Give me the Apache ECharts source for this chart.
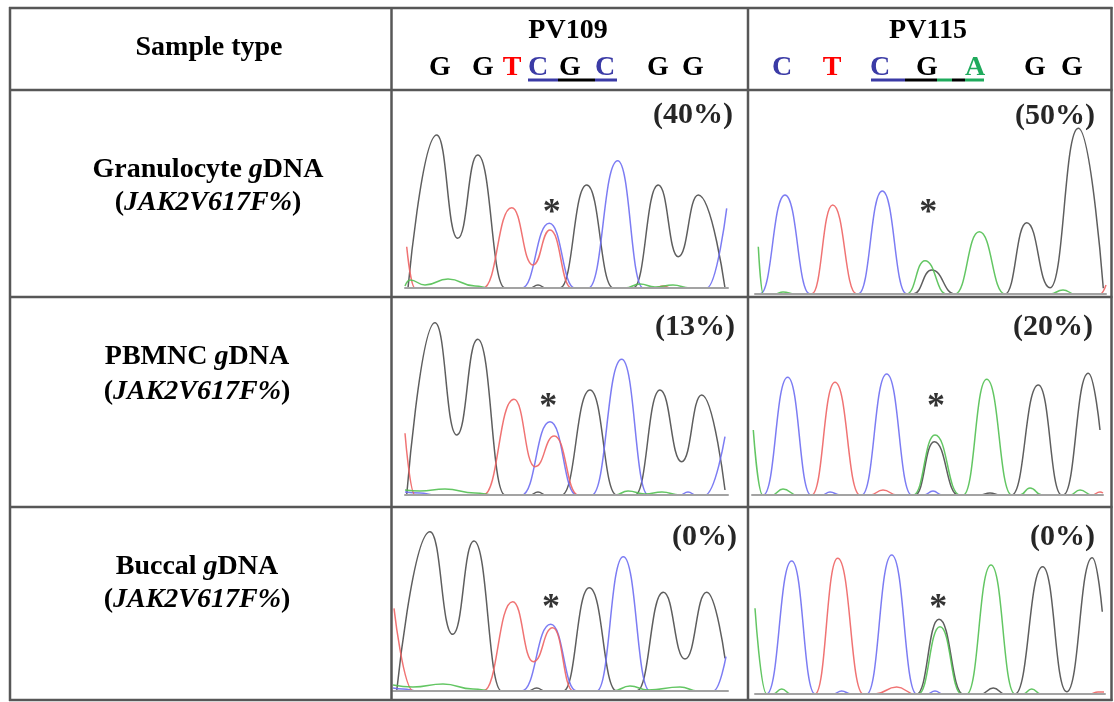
<!DOCTYPE html>
<html>
<head>
<meta charset="utf-8">
<script src="https://cdn.jsdelivr.net/npm/echarts@6/dist/echarts.min.js"></script>
<style>
  html, body { margin: 0; padding: 0; background: #ffffff; }
  #chart { width: 1114px; height: 702px; }
</style>
</head>
<body>
<div id="chart"></div>
<script>
// ---- Table content ----
const sampleTypes = ['Granulocyte', 'PBMNC', 'Buccal'];
const patients = ['PV109', 'PV115'];
// JAK2 V617F allele burden per sample type (rows) and patient (columns)
const mutantPercent = [[40, 50], [13, 20], [0, 0]];
// Base calls printed above each chromatogram column
const seqPV109 = ['G', 'G', 'T', 'C', 'G', 'C', 'G', 'G'];
const seqPV115 = ['C', 'T', 'C', 'G', 'A', 'G', 'G'];
// Bases of the underlined codon segments
const codonPV109 = ['C', 'G', 'C'];
const codonPV115 = ['C', 'G', 'A', 'G', 'A'];

// ---- Chromatogram traces: [scan position, signal] ----
// PV109, granulocyte gDNA
const pv109GranG = [[3,0],[31.7,153],[52.7,49.7],[72.7,133],[100,0],[125,0],[133,3],[141,0],[155,0],[181.7,103],[208.3,0],[228.3,0],[253.3,103],[273.3,31.3],[293.3,93],[320,0]];
const pv109GranT = [[1.7,41.3],[10,0],[78,0],[106.7,80.3],[128,23],[145,58],[166.7,0],[250,0],[258,2],[266,0],[320,0]];
const pv109GranC = [[0,0],[116.7,0],[144.3,64.7],[170,0],[183.3,0],[212.7,127.3],[238.3,0],[301.7,0],[321.7,79.7]];
const pv109GranA = [[0,2],[5,8],[20,3],[43,9],[70,2],[85,0],[220,0],[235,4],[250,1],[268,3],[285,0],[320,0]];
// PV115, granulocyte gDNA
const pv115GranG = [[0,0],[158.3,0],[176.7,24],[200,0],[250,0],[271.7,71.3],[295,6.3],[323.3,165.7],[348.3,5.7]];
const pv115GranC = [[0,0],[5,0],[30,99],[55,0],[103.3,0],[127.3,103],[151.7,0],[350,0]];
const pv115GranT = [[0,0],[56.7,0],[77.7,89],[101.7,0],[345,0],[351,9]];
const pv115GranA = [[3.3,47.3],[8.3,0],[20,0],[28,2],[40,0],[151.7,0],[170,33.3],[191.7,0],[200,0],[224.3,62.3],[250,0],[295,0],[308,4],[320,0],[350,0]];
// PV109, PBMNC gDNA
const pv109PbmncG = [[1.7,0],[30,172.3],[51.7,60],[72.7,155.7],[100,0],[125,0],[133,3],[141,0],[156.7,0],[185,105],[211.7,0],[230,0],[255,105],[276.7,33.3],[296.7,100],[320,5]];
const pv109PbmncT = [[0,61.7],[10,0],[78.3,0],[109,95.7],[130,28.3],[149.3,59],[173.3,0],[320,0]];
const pv109PbmncC = [[0,3],[15,2],[30,0],[116.7,0],[145,73.3],[171.7,0],[186.7,0],[216.7,135.7],[243.3,0],[275,0],[283,3],[291,0],[300,0],[320,58.3]];
const pv109PbmncA = [[0,5],[15,4],[40,6],[70,2],[90,0],[210,0],[223,4],[240,1],[257,3],[275,0],[320,0]];
// PV115, PBMNC gDNA
const pv115PbmncG = [[0,0],[163,0],[182.3,53.3],[206.3,0],[228,0],[238,2],[248,0],[259.7,0],[286.3,110],[309.7,0],[311.3,0],[336.3,121.7],[348,65]];
const pv115PbmncC = [[0,0],[11.3,0],[35.7,117.7],[59,0],[70,0],[78,3],[88,0],[109.7,0],[134.7,121],[159.7,0],[172,0],[181,4],[190,0],[351,0]];
const pv115PbmncT = [[0,0],[59.7,0],[83,112.7],[108,0],[118,0],[131,5],[145,0],[340,0],[348,3],[351,2]];
const pv115PbmncA = [[1.3,65],[10.7,0],[20,0],[31,6],[45,0],[161.3,0],[183,60],[208,0],[211.3,0],[234.7,115.7],[259.7,0],[268,0],[278,7],[290,0],[318,0],[328,5],[340,0],[351,0]];
// PV109, buccal gDNA
const pv109BuccalG = [[3.7,0],[37,159.3],[59.7,56.7],[81,150],[108.7,0],[135,0],[143.7,3],[152,0],[170.3,0],[196.3,103.3],[223.7,0],[243.7,0],[270.3,98.7],[292,32],[313.7,98.7],[332,32.7]];
const pv109BuccalT = [[1,82.7],[20.3,0],[90.3,0],[119.7,89.3],[140.3,29.3],[159.7,63.3],[180.3,0],[333,0]];
const pv109BuccalC = [[0,3],[10,2],[25,0],[128.7,0],[157.7,66.7],[183.7,0],[203.7,0],[230.3,134.3],[257,0],[320.3,0],[333,34.3]];
const pv109BuccalA = [[0,6],[20,4],[50,7],[80,2],[100,0],[220,0],[237,5],[255,1],[287,4],[305,0],[333,0]];
// PV115, buccal gDNA
const pv115BuccalG = [[0,0],[161.7,0],[184,74.7],[208.3,0],[226,0],[238.3,6],[250,0],[260,0],[287.7,127.3],[311.7,2.3],[337.3,136.3],[347.3,82.3]];
const pv115BuccalC = [[0,0],[11.7,0],[36.7,133],[60,0],[78,0],[86.7,3],[96,0],[111.7,0],[136.7,139],[161.7,0],[172,0],[180,3],[188,0],[349,0]];
const pv115BuccalT = [[0,0],[60,0],[82.7,135.7],[108.3,0],[120,0],[141.7,7],[160,0],[335,0],[343,2],[349,2]];
const pv115BuccalA = [[0,85.7],[11.7,0],[18,0],[26.7,5],[36,0],[163.3,0],[185,67.3],[206.7,0],[211.7,0],[236,129],[260,0],[268,0],[276.7,5],[286,0],[349,0]];

// Position of the V617F site (asterisk) in each chromatogram
const pv109Sites = [[146.7, 83], [143.3, 96.7], [158, 91]];
const pv115Sites = [[173.3, 89], [184, 96.7], [183.3, 94]];

// ---- Layout ----
const SERIF = '"Liberation Serif", "Times New Roman", Times, serif';
const baseColor = { G: '#4d4d4d', C: '#6e6ef2', T: '#ee6464', A: '#52c052' };
const letterColor = { G: '#000000', C: '#3b3ba6', T: '#ff0000', A: '#1faa5c' };

// chromatogram boxes, row-major: [left, width, baseline y]
const panelBoxes = [
  [405, 323, 288], [755, 351, 294],
  [405, 323, 495], [752, 351, 495],
  [393, 335, 691], [755, 350, 694]
];
const panelTraces = [
  { G: pv109GranG, C: pv109GranC, T: pv109GranT, A: pv109GranA },
  { G: pv115GranG, C: pv115GranC, T: pv115GranT, A: pv115GranA },
  { G: pv109PbmncG, C: pv109PbmncC, T: pv109PbmncT, A: pv109PbmncA },
  { G: pv115PbmncG, C: pv115PbmncC, T: pv115PbmncT, A: pv115PbmncA },
  { G: pv109BuccalG, C: pv109BuccalC, T: pv109BuccalT, A: pv109BuccalA },
  { G: pv115BuccalG, C: pv115BuccalC, T: pv115BuccalT, A: pv115BuccalA }
];
const panelSites = [pv109Sites[0], pv115Sites[0], pv109Sites[1], pv115Sites[1], pv109Sites[2], pv115Sites[2]];
const SIGNAL_MAX = 200;

const grids = [], xAxes = [], yAxes = [], series = [];
panelBoxes.forEach(function (b, i) {
  grids.push({ left: b[0], top: b[2] - SIGNAL_MAX, width: b[1], height: SIGNAL_MAX, containLabel: false });
  xAxes.push({
    type: 'value', gridIndex: i, min: 0, max: b[1], z: 4,
    axisLine: { show: true, onZero: true, lineStyle: { color: '#a3a3a3', width: 2 } },
    axisTick: { show: false }, axisLabel: { show: false }, splitLine: { show: false }
  });
  yAxes.push({ type: 'value', gridIndex: i, min: 0, max: SIGNAL_MAX, show: false, splitLine: { show: false } });
  ['G', 'C', 'T', 'A'].forEach(function (base) {
    series.push({
      type: 'line', xAxisIndex: i, yAxisIndex: i,
      data: panelTraces[i][base],
      smooth: 0.5, smoothMonotone: 'x',
      showSymbol: false, symbol: 'none', clip: true, silent: true,
      lineStyle: { color: baseColor[base], width: 1.5, opacity: 0.9 },
      z: 3
    });
  });
  series.push({
    type: 'scatter', xAxisIndex: i, yAxisIndex: i,
    data: [panelSites[i]], symbolSize: 0, silent: true, z: 5,
    label: {
      show: true, position: 'inside', formatter: '*', offset: [0, 9],
      fontFamily: SERIF, fontWeight: 'bold', fontSize: 36, color: '#000'
    }
  });
});

// ---- Table frame and text ----
const graphics = [];
const lineStyle = { stroke: '#575757', lineWidth: 2.5 };
function hLine(y) { graphics.push({ type: 'line', shape: { x1: 9, y1: y, x2: 1112.5, y2: y }, style: lineStyle, z: 10 }); }
function vLine(x) { graphics.push({ type: 'line', shape: { x1: x, y1: 7, x2: x, y2: 701 }, style: lineStyle, z: 10 }); }
[8, 90, 297, 507, 700].forEach(hLine);
[10, 391.5, 748, 1111.5].forEach(vLine);

function text(x, y, str, opts) {
  graphics.push({
    type: 'text', x: x, y: y, z: 20,
    style: Object.assign({
      text: str, align: opts.align || 'center', textAlign: opts.align || 'center',
      verticalAlign: 'middle', textVerticalAlign: 'middle',
      fontFamily: SERIF, fontWeight: 'bold', fontSize: opts.size || 28, fill: opts.color || '#000'
    }, opts.extra || {})
  });
}
const rich = {
  b: { fontFamily: SERIF, fontWeight: 'bold', fontSize: 28, fill: '#000' },
  i: { fontFamily: SERIF, fontWeight: 'bold', fontStyle: 'italic', fontSize: 28, fill: '#000' }
};

text(209, 48, 'Sample type', {});
const labelCenters = [[208, 170, 203], [197, 357, 392], [197, 567, 600]];
sampleTypes.forEach(function (s, r) {
  const c = labelCenters[r];
  text(c[0], c[1], '{b|' + s + ' }{i|g}{b|DNA}', { extra: { rich: rich } });
  text(c[0], c[2], '{b|(}{i|JAK2V617F%}{b|)}', { extra: { rich: rich } });
});

// patient headers
const headerCenters = [568, 928];
patients.forEach(function (p, k) { text(headerCenters[k], 31, p, { size: 28 }); });

// sequence letters
const seqX = [
  [440, 483, 512, 538, 570, 605, 658, 693],
  [782, 832, 880, 927, 975, 1035, 1072]
];
[seqPV109, seqPV115].forEach(function (seq, k) {
  seq.forEach(function (b, j) { text(seqX[k][j], 68, b, { size: 28, color: letterColor[b] }); });
});

// codon underlines
const underlineX = [[528, 558, 595, 617], [871, 905, 937, 952, 965, 984]];
[codonPV109, codonPV115].forEach(function (codon, k) {
  codon.forEach(function (b, j) {
    graphics.push({
      type: 'line', z: 20,
      shape: { x1: underlineX[k][j], y1: 80, x2: underlineX[k][j + 1], y2: 80 },
      style: { stroke: b === 'G' ? '#000000' : (b === 'C' ? '#3b3ba6' : '#1faa5c'), lineWidth: 3 }
    });
  });
});

// allele-burden labels, right aligned in each cell
const pctAnchors = [[733, 115], [1095, 116], [735, 327], [1093, 327], [737, 537], [1095, 537]];
mutantPercent.forEach(function (row, r) {
  row.forEach(function (v, k) {
    const a = pctAnchors[r * 2 + k];
    text(a[0], a[1], '(' + v + '%)', { size: 30, align: 'right', color: '#262626' });
  });
});

const chart = echarts.init(document.getElementById('chart'), null, { renderer: 'canvas' });
chart.setOption({
  animation: false,
  backgroundColor: '#ffffff',
  grid: grids, xAxis: xAxes, yAxis: yAxes, series: series,
  graphic: { elements: graphics }
});
</script>
</body>
</html>
